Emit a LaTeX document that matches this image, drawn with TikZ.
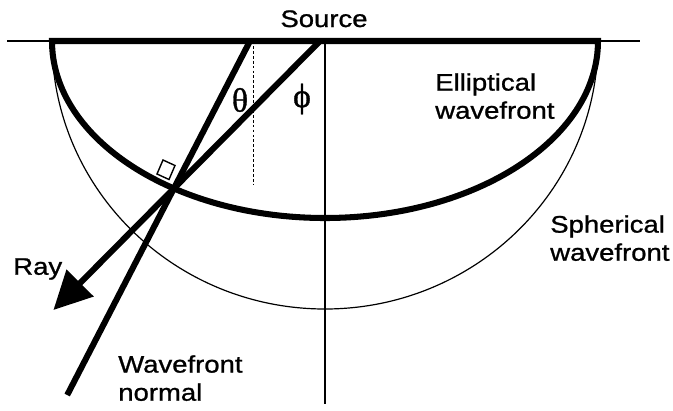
\documentclass[tikz,border=0pt]{standalone}
\usepackage{fontspec}
\setmainfont{Liberation Sans}[FakeStretch=1.15, FakeBold=1]
\newfontfamily\grkfont{Liberation Serif}[FakeBold=1]
\usetikzlibrary{arrows.meta}

\begin{document}
\begin{tikzpicture}[x=0.025cm, y=0.025cm,
    thickl/.style={line width=4.3pt},
    thinl/.style={line width=0.85pt},
    lbl/.style={inner sep=0pt, align=left, anchor=north west, font=\fontsize{17}{20}\selectfont},
    grk/.style={inner sep=0pt, font=\grkfont\fontsize{24}{24}\selectfont},
    arr/.style={-{Triangle[length=0.95cm, width=0.92cm]}, line width=4.3pt}]
  \useasboundingbox (0,0) rectangle (673,-410);
  \coordinate (left) at (7,-41);
  \coordinate (right) at (640,-41);
  \coordinate (wl) at (52,-41);
  \coordinate (wr) at (598,-41);
  \coordinate (O) at (325,-41);
  \coordinate (Obot) at (325,-404);
  \coordinate (D) at (253,-41);
  \coordinate (Dbot) at (253,-185);
  \coordinate (nTop) at (250,-41);
  \coordinate (P) at (173.9,-188.4);
  \coordinate (nBot) at (67.2,-395);
  \coordinate (rTop) at (320,-41);
  \coordinate (rTip) at (53.4,-310);
  \draw[thinl] (left) -- (right);
  \draw[thinl] (wl) arc[start angle=180, end angle=360, x radius=273, y radius=268];
  \draw[thinl] (O) -- (Obot);
  \draw[line width=0.6pt, dash pattern=on 2pt off 1.5pt] (D) -- (Dbot);
  \draw[line width=1pt] (157,-174) -- (163,-160) -- (175,-165.5) -- (169,-179.5) -- cycle;
  \draw[thickl] (wl) arc[start angle=180, end angle=360, x radius=273, y radius=177] -- cycle;
  \draw[thickl] (nTop) -- (P) -- (nBot);
  \draw[arr] (rTop) -- (P) -- (rTip);
  \node[inner sep=0pt, anchor=base, font=\fontsize{17}{20}\selectfont] (src) at (324,-27) {Source};
  \node[grk] (theta) at (240,-100) {θ};
  \node[grk] (phi) at (302,-99) {ϕ};
  \node[lbl] (ell) at (435,-73) {Elliptical\\wavefront};
  \node[lbl] (sph) at (550,-215) {Spherical\\wavefront};
  \node[lbl] (ray) at (13,-258) {Ray};
  \node[lbl] (wfn) at (118,-355) {Wavefront\\normal};
\end{tikzpicture}
\end{document}
